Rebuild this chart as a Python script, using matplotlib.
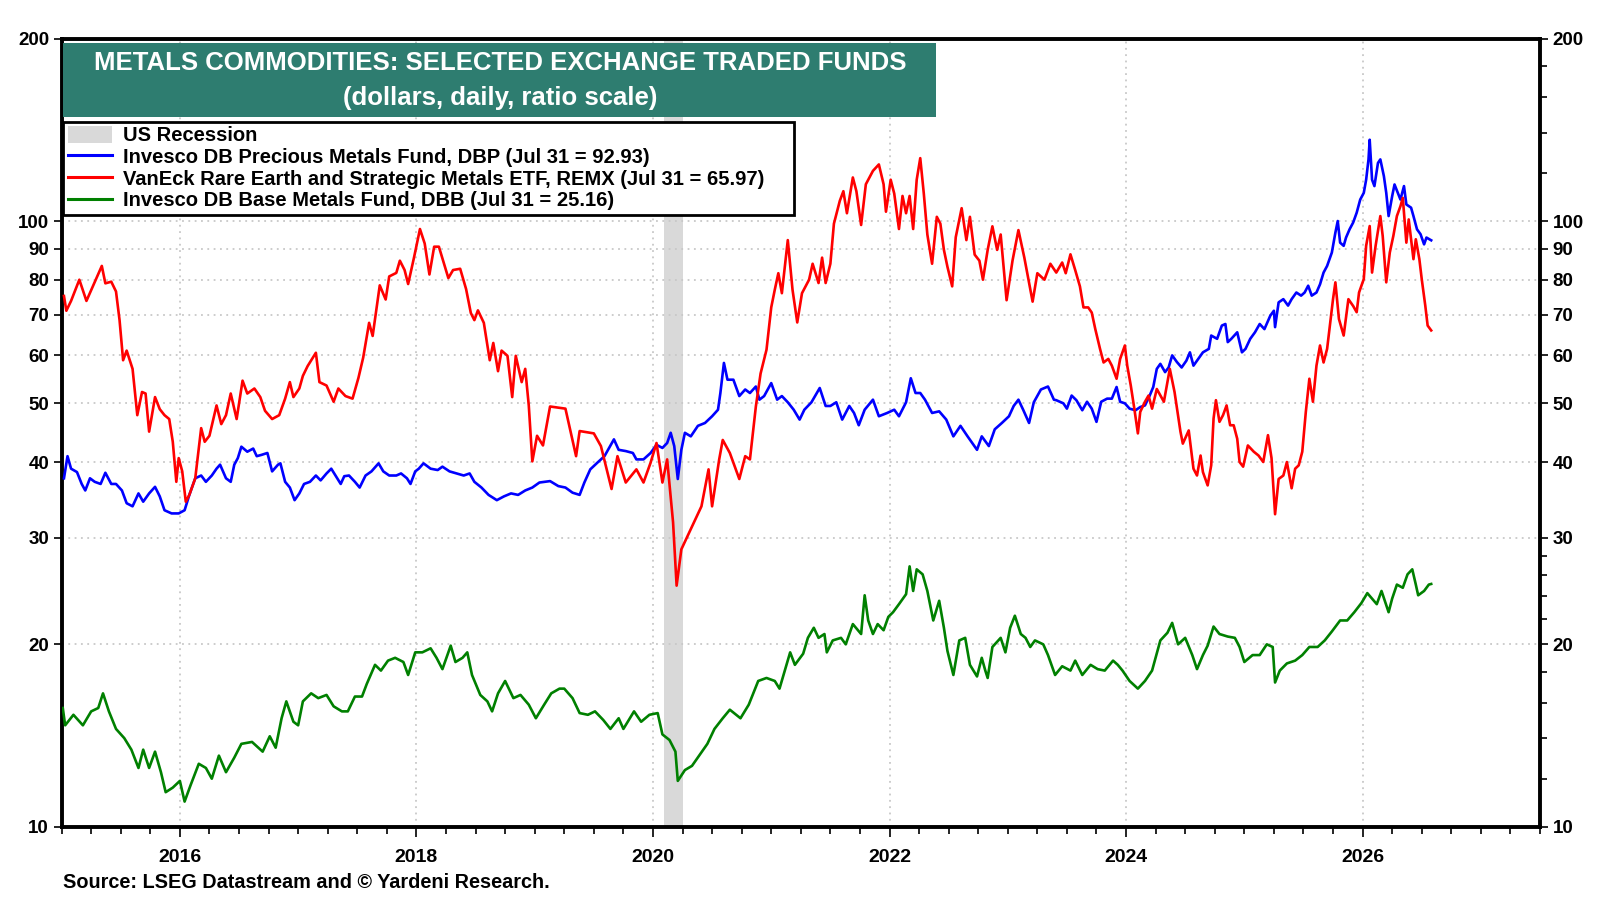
import numpy as np
import matplotlib
matplotlib.use('Agg')
import matplotlib.pyplot as plt
from matplotlib.patches import Rectangle, Patch
from matplotlib.lines import Line2D
from matplotlib.ticker import FixedLocator, FuncFormatter, NullFormatter

plt.rcParams['font.family'] = ['Liberation Sans', 'DejaVu Sans']
plt.rcParams['font.weight'] = 'bold'

# (decimal year, price)
dbp = [
    (2015.02, 37.6), (2015.05, 40.9), (2015.08, 39.0), (2015.13, 38.5), (2015.17, 36.8), (2015.20, 35.9),
    (2015.24, 37.6), (2015.28, 37.1), (2015.33, 36.8), (2015.37, 38.4), (2015.42, 36.8), (2015.46, 36.8),
    (2015.51, 35.9), (2015.55, 34.2), (2015.60, 33.8), (2015.65, 35.5), (2015.69, 34.4), (2015.74, 35.5),
    (2015.79, 36.4), (2015.83, 35.1), (2015.87, 33.3), (2015.93, 32.9), (2015.99, 32.9), (2016.04, 33.3),
    (2016.08, 35.3), (2016.13, 37.6), (2016.18, 38.0), (2016.22, 37.1), (2016.27, 38.0), (2016.31, 39.0),
    (2016.34, 39.6), (2016.39, 37.6), (2016.43, 37.1), (2016.46, 39.6), (2016.49, 40.6), (2016.52, 42.4),
    (2016.57, 41.6), (2016.62, 42.1), (2016.65, 40.9), (2016.69, 41.1), (2016.74, 41.4), (2016.78, 38.6),
    (2016.83, 39.6), (2016.85, 39.8), (2016.89, 37.1), (2016.93, 36.3), (2016.97, 34.6), (2017.01, 35.5),
    (2017.05, 36.8), (2017.10, 37.1), (2017.15, 38.0), (2017.19, 37.3), (2017.24, 38.3), (2017.28, 39.0),
    (2017.33, 37.6), (2017.36, 36.8), (2017.39, 37.9), (2017.43, 38.0), (2017.48, 37.1), (2017.52, 36.3),
    (2017.57, 38.0), (2017.62, 38.6), (2017.68, 39.8), (2017.72, 38.6), (2017.77, 38.0), (2017.83, 38.0),
    (2017.87, 38.3), (2017.92, 37.6), (2017.95, 36.8), (2017.99, 38.6), (2018.02, 39.0), (2018.06, 39.8),
    (2018.12, 39.0), (2018.18, 38.8), (2018.22, 39.3), (2018.28, 38.6), (2018.34, 38.3), (2018.40, 38.0),
    (2018.45, 38.3), (2018.49, 37.1), (2018.55, 36.3), (2018.61, 35.3), (2018.68, 34.6), (2018.74, 35.1),
    (2018.80, 35.5), (2018.86, 35.3), (2018.92, 35.9), (2018.98, 36.3), (2019.04, 37.0), (2019.13, 37.2),
    (2019.20, 36.5), (2019.26, 36.3), (2019.32, 35.6), (2019.38, 35.3), (2019.42, 37.0), (2019.47, 38.9),
    (2019.53, 39.9), (2019.59, 40.9), (2019.62, 41.9), (2019.67, 43.6), (2019.71, 41.9), (2019.77, 41.7),
    (2019.83, 41.4), (2019.86, 40.4), (2019.92, 40.4), (2019.98, 41.4), (2020.03, 42.7), (2020.08, 42.2),
    (2020.12, 43.0), (2020.15, 44.7), (2020.18, 42.5), (2020.21, 37.5), (2020.24, 41.9), (2020.27, 44.7),
    (2020.32, 44.1), (2020.38, 45.9), (2020.44, 46.4), (2020.50, 47.6), (2020.55, 48.8), (2020.57, 52.0),
    (2020.60, 58.3), (2020.63, 54.7), (2020.68, 54.7), (2020.73, 51.4), (2020.78, 52.7), (2020.82, 52.0),
    (2020.87, 53.3), (2020.90, 50.7), (2020.94, 51.4), (2021.00, 54.0), (2021.05, 50.7), (2021.09, 51.4),
    (2021.14, 50.2), (2021.19, 48.8), (2021.24, 47.0), (2021.28, 48.8), (2021.34, 50.2), (2021.41, 53.0),
    (2021.46, 49.5), (2021.50, 49.5), (2021.55, 50.2), (2021.60, 47.0), (2021.66, 49.5), (2021.70, 48.2),
    (2021.74, 46.0), (2021.79, 48.8), (2021.86, 50.7), (2021.91, 47.6), (2021.98, 48.2), (2022.04, 48.8),
    (2022.08, 47.6), (2022.14, 50.2), (2022.18, 55.0), (2022.22, 52.0), (2022.26, 52.0), (2022.30, 50.7),
    (2022.36, 48.2), (2022.42, 48.5), (2022.48, 47.0), (2022.54, 44.1), (2022.60, 45.9), (2022.66, 44.1),
    (2022.74, 41.9), (2022.78, 44.1), (2022.84, 42.5), (2022.89, 45.3), (2022.95, 46.4), (2023.01, 47.6),
    (2023.05, 49.5), (2023.09, 50.7), (2023.13, 48.8), (2023.18, 46.4), (2023.22, 50.2), (2023.28, 52.7),
    (2023.34, 53.3), (2023.39, 50.7), (2023.41, 50.6), (2023.47, 50.0), (2023.50, 49.0), (2023.54, 51.5),
    (2023.58, 50.6), (2023.63, 48.7), (2023.67, 50.3), (2023.71, 49.0), (2023.75, 46.6), (2023.79, 50.3),
    (2023.84, 50.9), (2023.88, 50.9), (2023.92, 53.2), (2023.95, 50.3), (2023.99, 50.0), (2024.03, 49.0),
    (2024.08, 48.7), (2024.12, 49.3), (2024.16, 49.6), (2024.20, 51.5), (2024.23, 53.2), (2024.26, 57.0),
    (2024.29, 58.1), (2024.33, 56.3), (2024.36, 57.3), (2024.39, 60.0), (2024.43, 58.5), (2024.47, 57.3),
    (2024.51, 58.8), (2024.54, 60.7), (2024.57, 57.7), (2024.61, 59.2), (2024.65, 60.7), (2024.70, 61.5),
    (2024.72, 64.7), (2024.77, 63.9), (2024.81, 67.2), (2024.84, 67.6), (2024.86, 63.1), (2024.89, 63.9),
    (2024.94, 65.5), (2024.98, 60.7), (2025.01, 61.5), (2025.05, 63.9), (2025.09, 65.5), (2025.13, 67.6),
    (2025.17, 66.3), (2025.22, 69.8), (2025.25, 71.1), (2025.26, 66.8), (2025.29, 73.4), (2025.33, 74.3),
    (2025.37, 72.5), (2025.40, 74.3), (2025.44, 76.2), (2025.48, 75.3), (2025.51, 76.2), (2025.54, 78.2),
    (2025.57, 75.3), (2025.61, 76.2), (2025.64, 78.6), (2025.67, 82.2), (2025.70, 84.3), (2025.74, 88.7),
    (2025.77, 95.7), (2025.79, 100.0), (2025.81, 92.1), (2025.84, 91.0), (2025.86, 93.9), (2025.89, 96.9),
    (2025.92, 99.4), (2025.95, 103.2), (2025.98, 108.5), (2026.01, 111.3), (2026.03, 117.0), (2026.05, 126.4),
    (2026.06, 136.2), (2026.08, 117.0), (2026.10, 114.2), (2026.13, 124.7), (2026.15, 126.4), (2026.18, 118.6),
    (2026.20, 111.3), (2026.22, 101.9), (2026.25, 109.9), (2026.27, 114.9), (2026.32, 108.5), (2026.35, 114.2),
    (2026.37, 106.5), (2026.41, 105.2), (2026.43, 101.9), (2026.46, 96.9), (2026.49, 95.1), (2026.52, 91.5),
    (2026.54, 93.9), (2026.58, 92.93),
]

remx = [
    (2015.02, 75.2), (2015.04, 71.1), (2015.08, 73.8), (2015.15, 80.0), (2015.21, 73.8), (2015.27, 78.5),
    (2015.34, 84.3), (2015.37, 78.9), (2015.42, 79.4), (2015.46, 76.5), (2015.49, 68.6), (2015.52, 58.9),
    (2015.55, 61.1), (2015.60, 57.0), (2015.64, 47.8), (2015.68, 52.2), (2015.71, 51.9), (2015.74, 44.9),
    (2015.79, 51.2), (2015.83, 48.9), (2015.87, 47.8), (2015.91, 47.1), (2015.94, 43.2), (2015.97, 37.1),
    (2015.99, 40.6), (2016.02, 38.6), (2016.05, 34.4), (2016.08, 35.3), (2016.13, 37.6), (2016.18, 45.5),
    (2016.21, 43.2), (2016.25, 44.2), (2016.31, 49.6), (2016.35, 46.2), (2016.39, 47.8), (2016.43, 51.9),
    (2016.48, 47.1), (2016.53, 54.5), (2016.57, 51.9), (2016.63, 52.9), (2016.68, 51.2), (2016.72, 48.6),
    (2016.78, 47.1), (2016.84, 47.8), (2016.89, 50.9), (2016.93, 54.2), (2016.96, 51.2), (2017.01, 52.9),
    (2017.04, 55.5), (2017.08, 57.6), (2017.15, 60.6), (2017.18, 54.2), (2017.24, 53.5), (2017.30, 50.3),
    (2017.34, 52.9), (2017.40, 51.4), (2017.46, 50.9), (2017.51, 55.1), (2017.55, 59.5), (2017.60, 67.9),
    (2017.63, 64.6), (2017.69, 78.3), (2017.74, 74.2), (2017.77, 81.0), (2017.83, 82.1), (2017.86, 86.0),
    (2017.90, 83.0), (2017.93, 78.7), (2017.98, 87.1), (2018.03, 97.0), (2018.07, 91.8), (2018.11, 81.6),
    (2018.15, 90.7), (2018.19, 90.7), (2018.24, 84.2), (2018.27, 80.5), (2018.31, 83.0), (2018.37, 83.4),
    (2018.42, 77.2), (2018.46, 70.5), (2018.49, 68.6), (2018.52, 71.2), (2018.57, 67.9), (2018.62, 58.9),
    (2018.65, 62.9), (2018.69, 56.5), (2018.72, 61.1), (2018.77, 59.9), (2018.81, 51.2), (2018.84, 59.9),
    (2018.89, 54.2), (2018.92, 57.0), (2018.95, 49.6), (2018.98, 40.1), (2019.02, 44.2), (2019.07, 42.6),
    (2019.13, 49.4), (2019.26, 49.0), (2019.35, 40.9), (2019.38, 45.0), (2019.50, 44.6), (2019.56, 42.5),
    (2019.65, 36.1), (2019.70, 40.9), (2019.77, 37.0), (2019.86, 38.9), (2019.92, 37.0), (2019.98, 39.9),
    (2020.03, 43.0), (2020.08, 37.0), (2020.12, 40.4), (2020.17, 31.8), (2020.20, 25.0), (2020.24, 28.7),
    (2020.32, 31.0), (2020.41, 33.8), (2020.47, 38.9), (2020.50, 33.8), (2020.56, 40.4), (2020.59, 43.5),
    (2020.65, 41.4), (2020.73, 37.5), (2020.78, 40.9), (2020.82, 40.4), (2020.87, 49.4), (2020.91, 56.0),
    (2020.96, 61.3), (2021.00, 72.0), (2021.03, 77.0), (2021.06, 82.0), (2021.09, 76.0), (2021.14, 93.0),
    (2021.18, 77.0), (2021.22, 68.0), (2021.26, 76.0), (2021.32, 80.0), (2021.35, 85.0), (2021.40, 79.0),
    (2021.43, 87.0), (2021.46, 79.0), (2021.50, 85.0), (2021.53, 99.0), (2021.58, 108.0), (2021.61, 112.0),
    (2021.64, 103.0), (2021.69, 118.0), (2021.72, 112.0), (2021.76, 98.5), (2021.80, 115.0), (2021.86, 121.0),
    (2021.91, 124.0), (2021.95, 115.0), (2021.97, 103.6), (2022.01, 117.0), (2022.04, 111.0), (2022.08, 97.0),
    (2022.11, 110.0), (2022.14, 103.0), (2022.17, 110.0), (2022.20, 97.0), (2022.23, 117.0), (2022.26, 127.0),
    (2022.29, 111.0), (2022.32, 95.0), (2022.36, 85.0), (2022.40, 101.6), (2022.43, 99.0), (2022.46, 89.6),
    (2022.49, 84.0), (2022.53, 78.0), (2022.56, 94.0), (2022.61, 105.0), (2022.65, 93.0), (2022.68, 101.6),
    (2022.72, 88.0), (2022.76, 86.0), (2022.79, 80.0), (2022.83, 89.6), (2022.87, 98.0), (2022.91, 89.6),
    (2022.94, 95.0), (2022.99, 74.0), (2023.04, 86.0), (2023.09, 96.6), (2023.14, 87.0), (2023.21, 73.6),
    (2023.25, 82.0), (2023.31, 80.0), (2023.36, 85.0), (2023.41, 82.2), (2023.46, 85.4), (2023.49, 82.0),
    (2023.53, 88.1), (2023.57, 83.0), (2023.61, 78.0), (2023.64, 72.0), (2023.68, 72.0), (2023.71, 70.6),
    (2023.74, 66.3), (2023.78, 61.5), (2023.81, 58.4), (2023.85, 59.2), (2023.88, 57.7), (2023.92, 54.9),
    (2023.95, 59.2), (2023.99, 62.3), (2024.01, 57.7), (2024.04, 53.5), (2024.07, 49.0), (2024.10, 44.6),
    (2024.12, 48.4), (2024.16, 50.3), (2024.19, 51.5), (2024.22, 49.0), (2024.26, 52.8), (2024.32, 50.3),
    (2024.37, 57.0), (2024.41, 52.2), (2024.46, 44.9), (2024.48, 42.9), (2024.53, 45.1), (2024.57, 39.0),
    (2024.60, 38.0), (2024.63, 41.0), (2024.65, 38.5), (2024.69, 36.6), (2024.72, 39.5), (2024.74, 47.2),
    (2024.76, 50.6), (2024.79, 46.6), (2024.82, 47.8), (2024.85, 49.6), (2024.88, 46.0), (2024.91, 46.0),
    (2024.94, 43.7), (2024.96, 40.0), (2024.99, 39.3), (2025.03, 42.6), (2025.08, 41.6), (2025.12, 41.0),
    (2025.16, 40.0), (2025.20, 44.3), (2025.23, 40.6), (2025.26, 32.8), (2025.29, 37.5), (2025.33, 38.0),
    (2025.36, 40.0), (2025.40, 36.2), (2025.43, 39.0), (2025.46, 39.5), (2025.49, 41.6), (2025.52, 48.4),
    (2025.55, 54.9), (2025.58, 50.3), (2025.61, 57.7), (2025.64, 62.3), (2025.67, 58.4), (2025.70, 61.5),
    (2025.72, 66.3), (2025.75, 74.3), (2025.77, 79.2), (2025.80, 68.9), (2025.84, 64.7), (2025.88, 74.3),
    (2025.92, 72.4), (2025.95, 70.7), (2025.97, 76.2), (2026.01, 80.2), (2026.03, 91.0), (2026.06, 98.1),
    (2026.08, 82.2), (2026.11, 91.0), (2026.15, 101.9), (2026.17, 94.5), (2026.20, 79.2), (2026.23, 88.7),
    (2026.26, 94.5), (2026.29, 101.9), (2026.32, 105.8), (2026.34, 109.2), (2026.37, 92.1), (2026.39, 100.6),
    (2026.43, 86.5), (2026.45, 93.3), (2026.48, 86.5), (2026.50, 80.2), (2026.53, 72.5), (2026.55, 67.2),
    (2026.58, 65.97),
]

dbb = [
    (2015.01, 15.7), (2015.03, 14.7), (2015.10, 15.3), (2015.18, 14.7), (2015.25, 15.5), (2015.31, 15.7),
    (2015.35, 16.6), (2015.40, 15.5), (2015.46, 14.5), (2015.53, 14.0), (2015.59, 13.4), (2015.65, 12.5),
    (2015.69, 13.4), (2015.74, 12.5), (2015.79, 13.3), (2015.84, 12.3), (2015.88, 11.4), (2015.94, 11.6),
    (2016.00, 11.9), (2016.04, 11.0), (2016.09, 11.7), (2016.16, 12.7), (2016.22, 12.5), (2016.27, 12.0),
    (2016.33, 13.1), (2016.39, 12.3), (2016.46, 13.0), (2016.52, 13.7), (2016.61, 13.8), (2016.70, 13.3),
    (2016.76, 14.1), (2016.81, 13.5), (2016.86, 15.1), (2016.90, 16.1), (2016.96, 14.9), (2017.00, 14.7),
    (2017.04, 16.1), (2017.11, 16.6), (2017.17, 16.3), (2017.24, 16.5), (2017.30, 15.8), (2017.37, 15.5),
    (2017.42, 15.5), (2017.48, 16.4), (2017.54, 16.4), (2017.58, 17.2), (2017.65, 18.5), (2017.70, 18.1),
    (2017.76, 18.8), (2017.82, 19.0), (2017.89, 18.7), (2017.93, 17.8), (2017.99, 19.4), (2018.05, 19.4),
    (2018.12, 19.7), (2018.17, 19.0), (2018.22, 18.2), (2018.29, 19.9), (2018.33, 18.7), (2018.39, 19.0),
    (2018.43, 19.4), (2018.47, 17.8), (2018.54, 16.5), (2018.60, 16.1), (2018.64, 15.5), (2018.69, 16.6),
    (2018.75, 17.4), (2018.82, 16.3), (2018.88, 16.5), (2018.95, 15.9), (2019.01, 15.1), (2019.08, 15.9),
    (2019.14, 16.6), (2019.21, 16.9), (2019.25, 16.9), (2019.32, 16.3), (2019.38, 15.4), (2019.45, 15.3),
    (2019.51, 15.5), (2019.58, 15.0), (2019.64, 14.5), (2019.71, 15.1), (2019.75, 14.5), (2019.84, 15.5),
    (2019.90, 14.9), (2019.97, 15.3), (2020.04, 15.4), (2020.08, 14.2), (2020.14, 13.9), (2020.19, 13.3),
    (2020.21, 11.9), (2020.27, 12.4), (2020.33, 12.6), (2020.39, 13.1), (2020.46, 13.7), (2020.52, 14.5),
    (2020.59, 15.1), (2020.65, 15.6), (2020.74, 15.1), (2020.81, 15.9), (2020.89, 17.4), (2020.96, 17.6),
    (2021.03, 17.4), (2021.07, 16.9), (2021.16, 19.4), (2021.20, 18.5), (2021.27, 19.3), (2021.31, 20.5),
    (2021.36, 21.3), (2021.40, 20.5), (2021.45, 20.8), (2021.47, 19.4), (2021.52, 20.3), (2021.59, 20.5),
    (2021.63, 20.0), (2021.69, 21.6), (2021.76, 20.8), (2021.79, 24.1), (2021.82, 21.9), (2021.86, 20.8),
    (2021.90, 21.6), (2021.95, 21.1), (2021.99, 22.2), (2022.03, 22.6), (2022.08, 23.3), (2022.14, 24.2),
    (2022.17, 26.9), (2022.20, 24.5), (2022.23, 26.6), (2022.28, 26.1), (2022.32, 24.5), (2022.37, 21.9),
    (2022.42, 23.6), (2022.46, 21.3), (2022.49, 19.5), (2022.54, 17.8), (2022.59, 20.3), (2022.64, 20.5),
    (2022.68, 18.5), (2022.74, 17.7), (2022.78, 19.0), (2022.81, 18.1), (2022.83, 17.6), (2022.87, 19.8),
    (2022.94, 20.5), (2022.98, 19.4), (2023.02, 21.3), (2023.06, 22.3), (2023.11, 20.8), (2023.15, 20.5),
    (2023.19, 19.8), (2023.23, 20.3), (2023.30, 20.0), (2023.34, 19.2), (2023.40, 17.8), (2023.46, 18.4),
    (2023.53, 18.1), (2023.57, 18.8), (2023.63, 17.8), (2023.70, 18.5), (2023.76, 18.2), (2023.82, 18.1),
    (2023.89, 18.8), (2023.93, 18.5), (2023.97, 18.1), (2024.03, 17.4), (2024.10, 16.9), (2024.16, 17.4),
    (2024.22, 18.1), (2024.29, 20.3), (2024.35, 20.9), (2024.39, 21.7), (2024.44, 20.0), (2024.50, 20.5),
    (2024.56, 19.2), (2024.60, 18.2), (2024.65, 19.2), (2024.69, 19.9), (2024.74, 21.4), (2024.79, 20.8),
    (2024.86, 20.6), (2024.92, 20.5), (2024.96, 19.8), (2025.00, 18.7), (2025.07, 19.2), (2025.13, 19.2),
    (2025.19, 20.0), (2025.24, 19.8), (2025.26, 17.3), (2025.30, 18.1), (2025.36, 18.6), (2025.43, 18.8),
    (2025.49, 19.2), (2025.55, 19.8), (2025.62, 19.8), (2025.68, 20.3), (2025.74, 21.0), (2025.81, 21.9),
    (2025.87, 21.9), (2025.93, 22.6), (2025.99, 23.4), (2026.04, 24.3), (2026.08, 23.8), (2026.12, 23.3),
    (2026.16, 24.5), (2026.22, 22.6), (2026.25, 23.8), (2026.29, 25.1), (2026.34, 24.8), (2026.38, 26.1),
    (2026.42, 26.6), (2026.45, 25.1), (2026.47, 24.1), (2026.52, 24.5), (2026.56, 25.1), (2026.58, 25.16),
]

recession = (2020.09, 2020.25)

labels = [
    'US Recession',
    'Invesco DB Precious Metals Fund, DBP (Jul 31 = 92.93)',
    'VanEck Rare Earth and Strategic Metals ETF, REMX (Jul 31 = 65.97)',
    'Invesco DB Base Metals Fund, DBB (Jul 31 = 25.16)',
]
y_major = [10, 20, 30, 40, 50, 60, 70, 80, 90, 100, 200]
y_minor = [12, 14, 16, 18, 22, 24, 26, 28, 120, 140, 160, 180]
year_ticks = [2016, 2018, 2020, 2022, 2024, 2026]

fig = plt.figure(figsize=(16, 9), dpi=100)
ax = fig.add_axes([0.0385, 0.0815, 0.924, 0.8755])

ax.axvspan(*recession, color='#d9d9d9', lw=0, zorder=1)

for data, col in [(dbp, '#0000ff'), (remx, '#ff0000'), (dbb, '#008000')]:
    xs, ys = zip(*data)
    ax.plot(xs, ys, color=col, lw=1.9, zorder=3)

ax.set_yscale('log')
ax.set_ylim(10, 200)
ax.set_xlim(2015.0, 2027.5)

ax.yaxis.set_major_locator(FixedLocator(y_major))
ax.yaxis.set_major_formatter(FuncFormatter(lambda v, p: '%d' % v))
ax.yaxis.set_minor_locator(FixedLocator(y_minor))
ax.yaxis.set_minor_formatter(NullFormatter())
ax.xaxis.set_major_locator(FixedLocator(year_ticks))
ax.xaxis.set_minor_locator(FixedLocator(np.arange(2015, 2027.51, 0.25)))

ax.tick_params(axis='y', which='major', left=True, right=True, labelleft=True, labelright=True,
               direction='out', length=6, width=1.2, labelsize=13.5, pad=3)
ax.tick_params(axis='y', which='minor', left=False, right=True, direction='out', length=5, width=1.2)
ax.tick_params(axis='x', which='major', direction='out', length=7, width=1.2, labelsize=14, pad=9)
ax.tick_params(axis='x', which='minor', direction='out', length=5, width=1.2)
for lab in ax.get_xticklabels() + ax.get_yticklabels():
    lab.set_fontweight('bold')

ax.grid(True, which='major', ls=(0, (1, 2.5)), color='#c8c8c8', lw=1.3, zorder=0)
for sp in ax.spines.values():
    sp.set_linewidth(2.8)

# title box
fig.add_artist(Rectangle((0.0395, 0.8695), 0.5455, 0.083, transform=fig.transFigure,
                         facecolor='#2e7d70', edgecolor='none', zorder=5))
fig.text(0.3125, 0.9295, 'METALS COMMODITIES: SELECTED EXCHANGE TRADED FUNDS', color='white',
         fontsize=18.5, fontweight='bold', ha='center', va='center', zorder=6)
fig.text(0.3125, 0.891, '(dollars, daily, ratio scale)', color='white',
         fontsize=18.5, fontweight='bold', ha='center', va='center', zorder=6)

handles = [Patch(facecolor='#d9d9d9', edgecolor='none'),
           Line2D([], [], color='#0000ff', lw=2.2),
           Line2D([], [], color='#ff0000', lw=2.2),
           Line2D([], [], color='#008000', lw=2.2)]
leg = ax.legend(handles, labels, loc='upper left', bbox_to_anchor=(0.0395, 0.757, 0.457, 0.108),
                bbox_transform=fig.transFigure, mode='expand', prop={'size': 14.5, 'weight': 'bold'},
                frameon=True, fancybox=False, framealpha=1, edgecolor='black',
                handlelength=2.2, handleheight=0.9, handletextpad=0.55, labelspacing=0.12,
                borderpad=0.22, borderaxespad=0)
leg.get_frame().set_linewidth(2.0)
leg.set_zorder(6)

fig.text(0.0395, 0.0195, 'Source: LSEG Datastream and \u00a9 Yardeni Research.', fontsize=14.3,
         fontweight='bold', ha='left', va='center')

fig.savefig('out.png', dpi=100)
